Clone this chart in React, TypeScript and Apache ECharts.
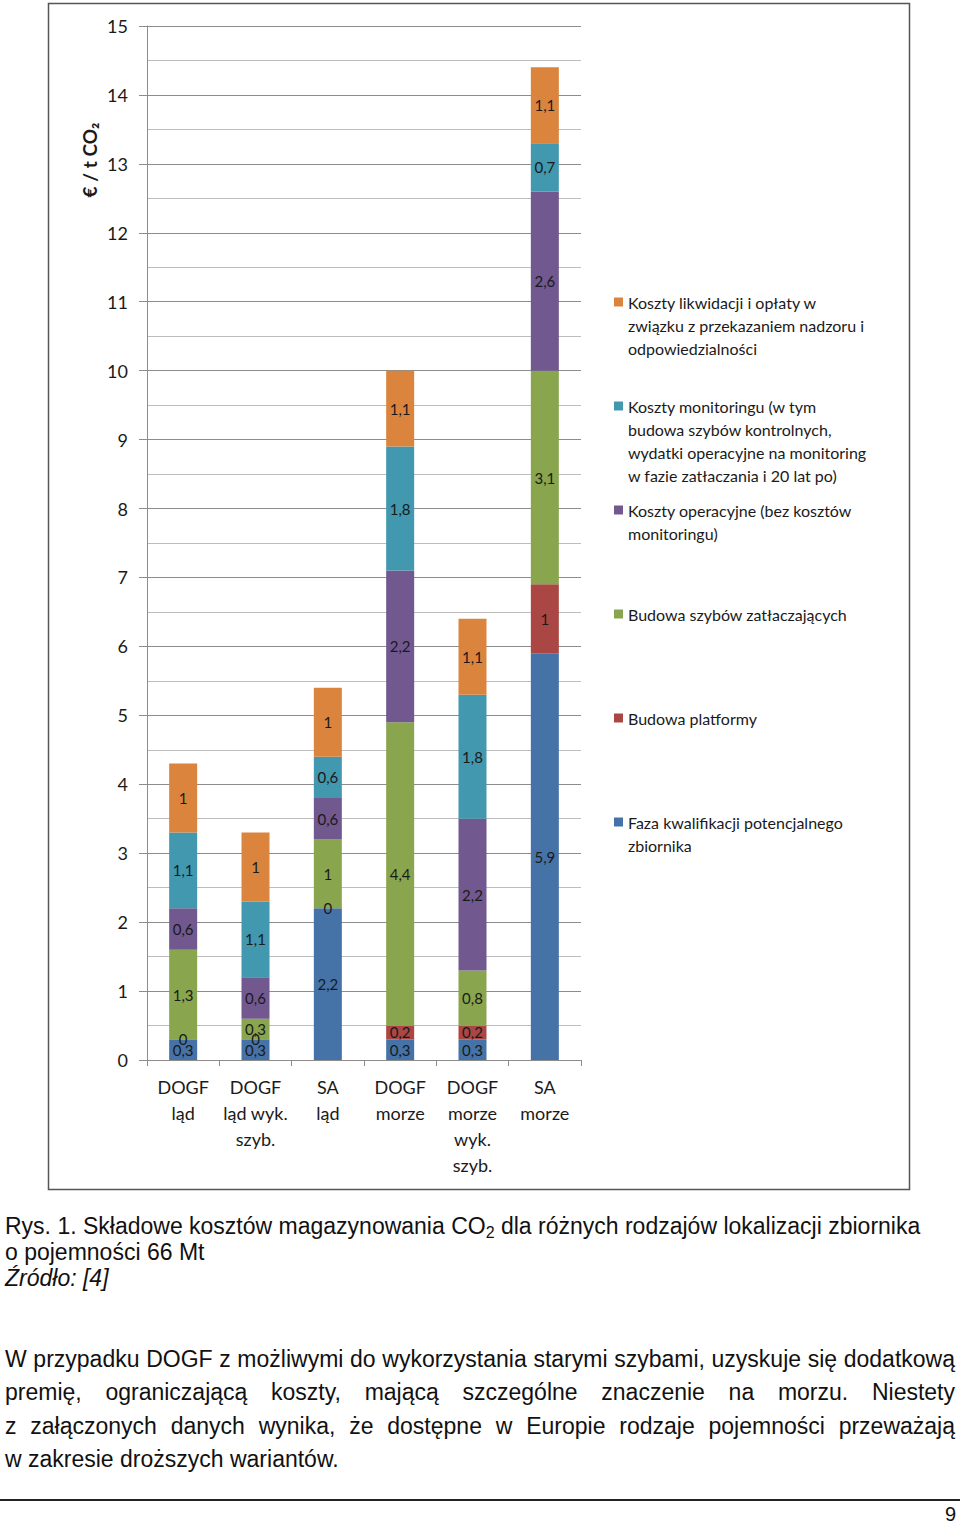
import React, { useEffect, useRef } from "react";
import * as echarts from "echarts";

const categories = [
  "DOGF\nląd",
  "DOGF\nląd wyk.\nszyb.",
  "SA\nląd",
  "DOGF\nmorze",
  "DOGF\nmorze\nwyk.\nszyb.",
  "SA\nmorze",
];

const seriesNames = [
  "Faza kwalifikacji potencjalnego zbiornika",
  "Budowa platformy",
  "Budowa szybów zatłaczających",
  "Koszty operacyjne (bez kosztów monitoringu)",
  "Koszty monitoringu (w tym budowa szybów kontrolnych, wydatki operacyjne na monitoring w fazie zatłaczania i 20 lat po)",
  "Koszty likwidacji i opłaty w związku z przekazaniem nadzoru i odpowiedzialności",
];

const legendLabels = [
  "Faza kwalifikacji potencjalnego\nzbiornika",
  "Budowa platformy",
  "Budowa szybów zatłaczających",
  "Koszty operacyjne (bez kosztów\nmonitoringu)",
  "Koszty monitoringu (w tym\nbudowa szybów kontrolnych,\nwydatki operacyjne na monitoring\nw fazie zatłaczania i 20 lat po)",
  "Koszty likwidacji i opłaty w\nzwiązku z przekazaniem nadzoru i\nodpowiedzialności",
];

const kwalifikacja = [0.3, 0.3, 2.2, 0.3, 0.3, 5.9];
const platforma = [0, 0, 0, 0.2, 0.2, 1];
const szybyZatlaczajace = [1.3, 0.3, 1, 4.4, 0.8, 3.1];
const operacyjne = [0.6, 0.6, 0.6, 2.2, 2.2, 2.6];
const monitoring = [1.1, 1.1, 0.6, 1.8, 1.8, 0.7];
const likwidacja = [1, 1, 1, 1.1, 1.1, 1.1];

const seriesValues = [kwalifikacja, platforma, szybyZatlaczajace, operacyjne, monitoring, likwidacja];
const colors = ["#4572a7", "#aa4643", "#89a54e", "#71588f", "#4198af", "#db843d"];

// legend rows (top to bottom) -> series index, first-line centre
const legendOrder = [5, 4, 3, 2, 1, 0];
const legendCenters = [302, 406, 510, 614, 718, 822];

const yTicks = { min: 0, max: 15, interval: 1 };

export default function App() {
  const ref = useRef<HTMLDivElement>(null);

  useEffect(() => {
    if (!ref.current) return;
    const chart = echarts.init(ref.current, undefined, { renderer: "svg" });
    const font = "Lato";
    const series = seriesNames.map((name, i) => ({
      name,
      type: "bar",
      stack: "total",
      barWidth: 28,
      data: seriesValues[i],
      itemStyle: { color: colors[i] },
      label: {
        show: true,
        position: "inside",
        fontSize: 15,
        fontFamily: font,
        color: "#1a1a1a",
        formatter: (p: any) => String(p.value).replace(".", ","),
      },
    }));

    const legends = legendOrder.map((si, k) => {
      const lines = legendLabels[si].split("\n").length;
      // blank lines above keep the first text line level with the marker
      const text = "\n".repeat(lines - 1) + legendLabels[si];
      return {
        data: [seriesNames[si]],
        orient: "vertical",
        left: 614,
        top: legendCenters[k] - (2 * lines - 1) * 11.5,
        padding: 0,
        itemWidth: 9,
        itemHeight: 9,
        icon: "rect",
        selectedMode: false,
        formatter: () => text,
        textStyle: {
          fontSize: 16,
          fontFamily: font,
          color: "#1a1a1a",
          lineHeight: 23,
        },
      };
    });

    chart.setOption({
      animation: false,
      backgroundColor: "#ffffff",
      grid: { left: 147, top: 26, width: 434, height: 1034, containLabel: false },
      legend: legends,
      xAxis: {
        type: "category",
        data: categories,
        axisLine: { lineStyle: { color: "#8c8c8c", width: 1 } },
        axisTick: { show: true, length: 6, interval: 0, lineStyle: { color: "#8c8c8c" } },
        axisLabel: {
          interval: 0,
          fontSize: 18,
          lineHeight: 26,
          margin: 14,
          fontFamily: font,
          color: "#1a1a1a",
        },
      },
      yAxis: {
        type: "value",
        min: yTicks.min,
        max: yTicks.max,
        interval: yTicks.interval,
        axisLine: { show: true, lineStyle: { color: "#8c8c8c", width: 1 } },
        axisTick: { show: true, length: 8, lineStyle: { color: "#8c8c8c" } },
        axisLabel: { fontSize: 18, margin: 19, fontFamily: font, color: "#1a1a1a" },
        splitLine: { show: true, lineStyle: { color: "#8c8c8c", width: 1 } },
        minorTick: { show: false, splitNumber: 2 },
        minorSplitLine: { show: true, lineStyle: { color: "#bdbdbd", width: 1 } },
      },
      series,
      graphic: [
        {
          type: "rect",
          shape: { x: 48.5, y: 3.5, width: 861, height: 1186 },
          style: { fill: "none", stroke: "#555555", lineWidth: 1.5 },
          silent: true,
          z: -1,
        },
        {
          type: "text",
          x: 89,
          y: 160,
          rotation: Math.PI / 2,
          style: {
            text: "€ / t CO₂",
            font: `bold 19px ${font}`,
            fill: "#1a1a1a",
            align: "center",
            verticalAlign: "middle",
          },
        },
      ],
    });
    return () => chart.dispose();
  }, []);

  const textFont = "'Liberation Sans', Arial, sans-serif";
  const justified: React.CSSProperties = {
    textAlign: "justify",
    textAlignLast: "justify",
    whiteSpace: "nowrap",
  };

  return (
    <div style={{ position: "absolute", left: 0, top: 0, width: 960, height: 1525, background: "#fff", color: "#111" }}>
      <div ref={ref} style={{ position: "absolute", left: 0, top: 0, width: 960, height: 1200 }} />
      <div
        style={{
          position: "absolute",
          left: 5,
          top: 1213,
          width: 950,
          fontFamily: textFont,
          fontSize: 23,
          lineHeight: "26px",
        }}
      >
        <div>
          Rys. 1. Składowe kosztów magazynowania CO
          <span style={{ fontSize: 16, verticalAlign: "-4px", lineHeight: 0 }}>2</span> dla różnych rodzajów
          lokalizacji zbiornika
        </div>
        <div>o pojemności 66 Mt</div>
        <div style={{ fontStyle: "italic" }}>Źródło: [4]</div>
      </div>
      <div
        style={{
          position: "absolute",
          left: 5,
          top: 1343,
          width: 950,
          fontFamily: textFont,
          fontSize: 23,
          lineHeight: "33.4px",
        }}
      >
        <div style={justified}>W przypadku DOGF z możliwymi do wykorzystania starymi szybami, uzyskuje się dodatkową</div>
        <div style={justified}>premię, ograniczającą koszty, mającą szczególne znaczenie na morzu. Niestety</div>
        <div style={justified}>z załączonych danych wynika, że dostępne w Europie rodzaje pojemności przeważają</div>
        <div>w zakresie droższych wariantów.</div>
      </div>
      <div style={{ position: "absolute", left: 0, top: 1499, width: 960, height: 1.5, background: "#222" }} />
      <div
        style={{
          position: "absolute",
          right: 4,
          top: 1502,
          fontFamily: textFont,
          fontSize: 20,
          lineHeight: "24px",
        }}
      >
        9
      </div>
    </div>
  );
}
